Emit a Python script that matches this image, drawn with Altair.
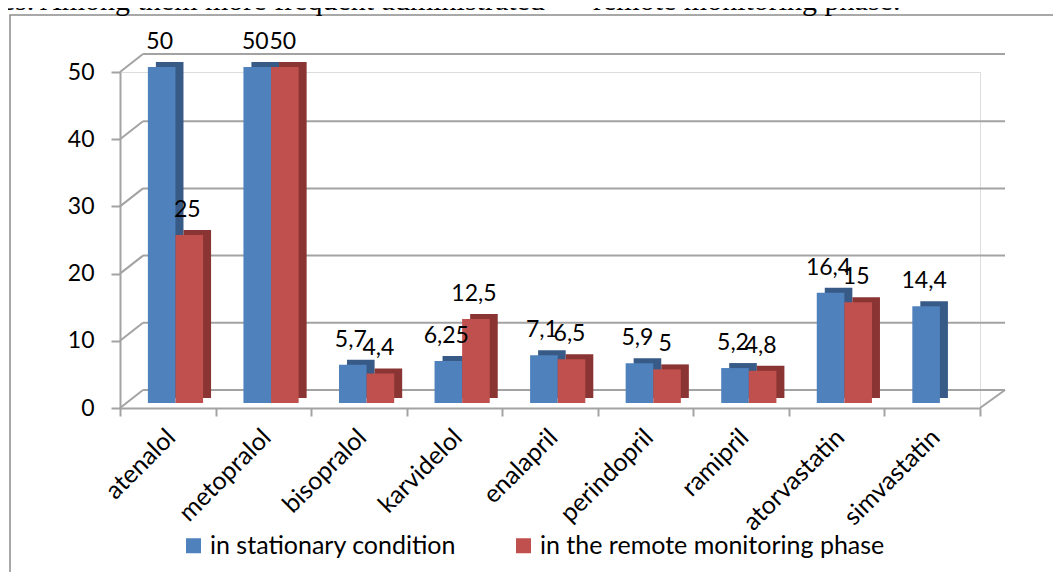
import altair as alt
import pandas as pd

# ---------------- data ----------------
drugs = ["atenalol", "metopralol", "bisopralol", "karvidelol", "enalapril",
         "perindopril", "ramipril", "atorvastatin", "simvastatin"]
stationary = [50, 50, 5.7, 6.25, 7.1, 5.9, 5.2, 16.4, 14.4]
remote = [25, 50, 4.4, 12.5, 6.5, 5, 4.8, 15, None]
series_names = ["in stationary condition", "in the remote monitoring phase"]
y_ticks = [0, 10, 20, 30, 40, 50]
caption_a = ["ses. Among them more frequent administrated"]
caption_dash = ["\u2013"]
caption_b = ["remote monitoring phase."]

BLUE, BLUE_DARK = "#4f81bd", "#375a87"
RED, RED_DARK = "#c0504d", "#8a3533"
GRID = "#a3a3a3"
FONT = "Lato"


def fmt(v):
    return ("%g" % v).replace(".", ",")


rows = []
for d, s, r in zip(drugs, stationary, remote):
    rows.append(dict(drug=d, series=series_names[0], value=s, label=fmt(s)))
    if r is not None:
        rows.append(dict(drug=d, series=series_names[1], value=r, label=fmt(r)))
df = pd.DataFrame(rows)
grid_df = pd.DataFrame({"v": y_ticks})
one = pd.DataFrame({"t": caption_a})

W, H = 860, 336
BAR_W = 27.6
DEPTH_X, DEPTH_Y = 8, -5      # 3D depth of the bars
WALL_X, WALL_Y = 23, -18      # 3D depth of the back wall
BLUE_OFF, RED_OFF = -6.1, 21.5

x_axis = alt.Axis(title=None, labelAngle=-45, labelFont=FONT, labelFontSize=25,
                  labelColor="black", labelAlign="right", labelBaseline="middle",
                  labelPadding=17, labelOffset=3, tickBand="extent", tickSize=8,
                  tickColor=GRID, tickWidth=2, domainColor=GRID, domainWidth=2,
                  labelLimit=0)
y_axis = alt.Axis(title=None, values=y_ticks, labelFont=FONT, labelFontSize=23,
                  labelColor="black", tickSize=9, tickColor=GRID, tickWidth=2,
                  domainColor=GRID, domainWidth=2, grid=False, labelPadding=17)
x_enc = alt.X("drug:N", sort=drugs, scale=alt.Scale(paddingInner=0, paddingOuter=0), axis=x_axis)
y_scale = alt.Scale(domain=[0, 50], nice=False)


def y_enc(field):
    return alt.Y(field, type="quantitative", scale=y_scale, axis=y_axis)


color_enc = alt.Color("series:N", scale=alt.Scale(domain=series_names, range=[BLUE, RED]),
                      legend=alt.Legend(title=None, orient="none", legendX=61, legendY=461,
                                        direction="horizontal", symbolType="square",
                                        symbolSize=225, symbolStrokeWidth=0,
                                        labelFont=FONT, labelFontSize=25, labelColor="black",
                                        labelOffset=4, columnPadding=54, labelLimit=0))

frame = alt.Chart(one).mark_rect(filled=False, stroke="#8c8c8c", strokeWidth=1.5).encode(
    x=alt.value(-110), x2=alt.value(1100), y=alt.value(-57), y2=alt.value(700))


def caption(text_list, xpos):
    return alt.Chart(pd.DataFrame({"t": text_list})).mark_text(
        font="Liberation Serif", fontSize=30, align="left", baseline="alphabetic",
        color="black").encode(x=alt.value(xpos), y=alt.value(-62.5), text="t:N")


back_grid = alt.Chart(grid_df).mark_rule(color=GRID, strokeWidth=2, yOffset=WALL_Y).encode(
    y=y_enc("v"), x=alt.value(WALL_X), x2=alt.value(W + WALL_X + 2))
side_grid = alt.Chart(grid_df).mark_rule(color=GRID, strokeWidth=2, y2Offset=WALL_Y).encode(
    y=y_enc("v"), y2=alt.Y2("v"), x=alt.value(0), x2=alt.value(WALL_X))
floor_right = alt.Chart(one).mark_rule(color=GRID, strokeWidth=2, y2Offset=WALL_Y).encode(
    y=alt.Y(datum=0, scale=y_scale, axis=y_axis), y2=alt.Y2(datum=0),
    x=alt.value(W), x2=alt.value(W + WALL_X + 2))


def bars(series_name, off, dark):
    base = alt.Chart(df).transform_filter(alt.datum.series == series_name)
    back = base.mark_bar(width=BAR_W, xOffset=off + DEPTH_X, yOffset=DEPTH_Y * 2,
                         y2Offset=DEPTH_Y * 2, color=dark).encode(x=x_enc, y=y_enc("value"))
    face = base.mark_bar(width=BAR_W, xOffset=off, yOffset=DEPTH_Y,
                         y2Offset=DEPTH_Y).encode(x=x_enc, y=y_enc("value"), color=color_enc)
    return back, face


def labels(series_name, off):
    base = alt.Chart(df).transform_filter(alt.datum.series == series_name)
    return base.mark_text(font=FONT, fontSize=23, color="black", baseline="alphabetic",
                          xOffset=off - 2, yOffset=DEPTH_Y - 18).encode(
        x=x_enc, y=y_enc("value"), text="label:N")


b_back, b_face = bars(series_names[0], BLUE_OFF, BLUE_DARK)
r_back, r_face = bars(series_names[1], RED_OFF, RED_DARK)

chart = alt.layer(
    frame, caption(caption_a, -130), caption(caption_dash, 440), caption(caption_b, 473),
    back_grid, side_grid, floor_right,
    b_back, b_face, r_back, r_face,
    labels(series_names[0], BLUE_OFF), labels(series_names[1], RED_OFF),
).properties(
    width=W, height=H,
    autosize=alt.AutoSizeParams(type="none"),
    padding={"left": 112, "top": 64, "right": 73, "bottom": 164},
).configure_view(strokeWidth=0).configure(background="white")

chart.save("out.html", embed_options={"renderer": "svg", "actions": False})
